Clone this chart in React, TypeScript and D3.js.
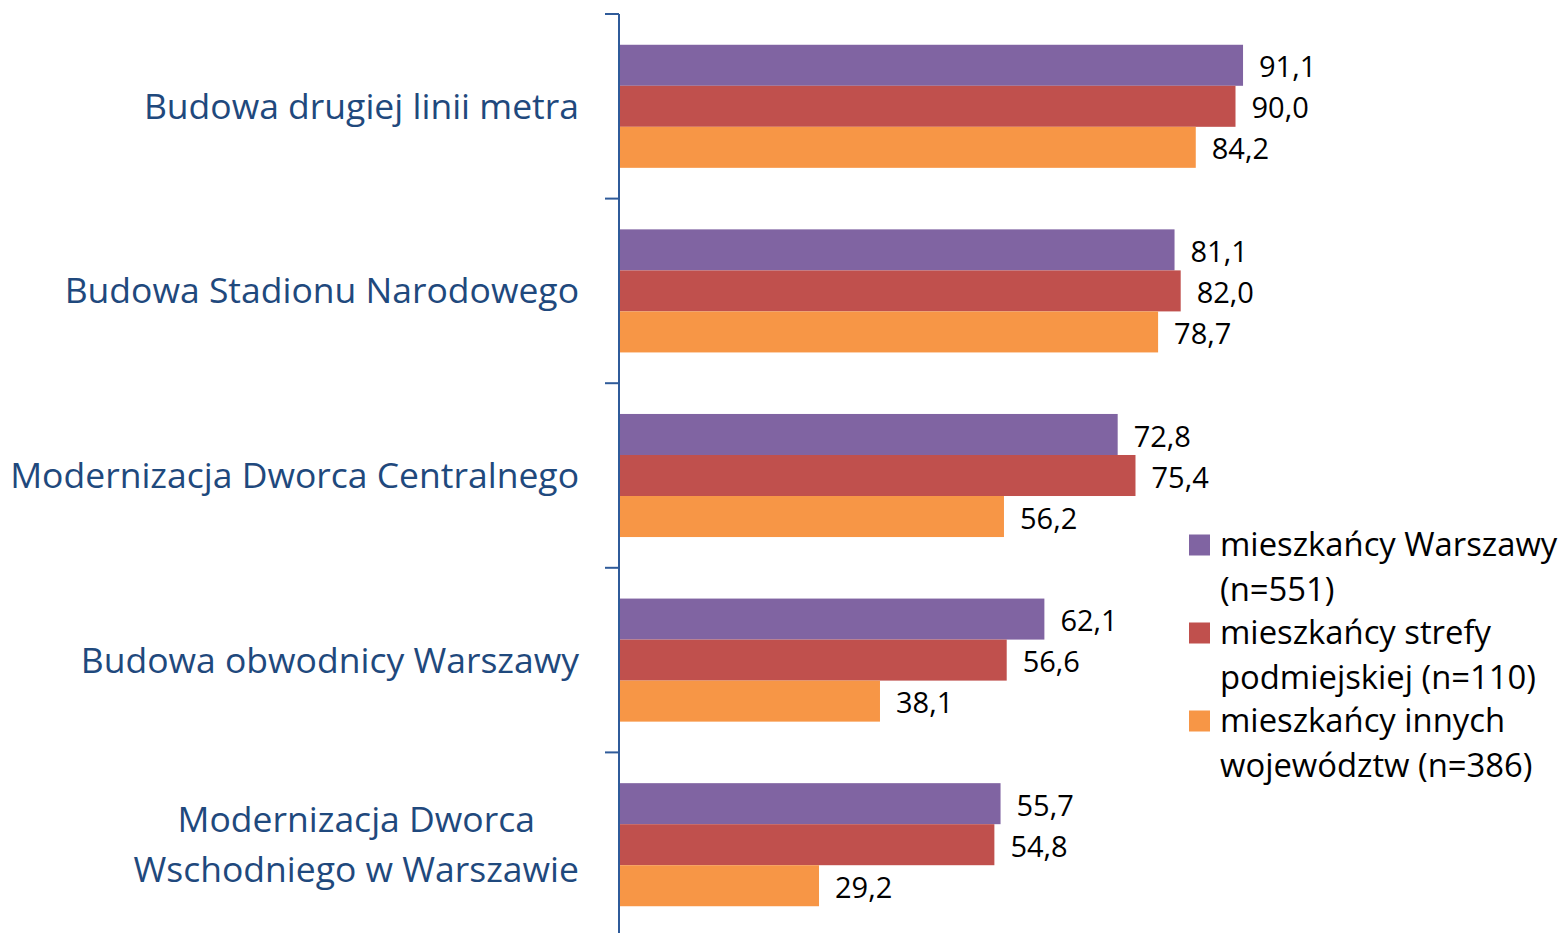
import * as d3 from "d3";

const categories = [
  ["Budowa drugiej linii metra"],
  ["Budowa Stadionu Narodowego"],
  ["Modernizacja Dworca Centralnego"],
  ["Budowa obwodnicy Warszawy"],
  ["Modernizacja Dworca", "Wschodniego w Warszawie"],
];

const seriesNames = [
  ["mieszkańcy Warszawy", "(n=551)"],
  ["mieszkańcy strefy", "podmiejskiej (n=110)"],
  ["mieszkańcy innych", "województw (n=386)"],
];

const warszawa = [91.1, 81.1, 72.8, 62.1, 55.7];
const strefa = [90.0, 82.0, 75.4, 56.6, 54.8];
const inne = [84.2, 78.7, 56.2, 38.1, 29.2];

const seriesValues = [warszawa, strefa, inne];
const colors = ["#8064A2", "#C0504D", "#F79646"];

const width = 1560;
const height = 933;
const font = "'Open Sans', sans-serif";

const fmt = (v: number) => v.toFixed(1).replace(".", ",");

function measure(text: string, size: number) {
  const ctx = document.createElement("canvas").getContext("2d");
  if (!ctx) return text.length * size * 0.5;
  ctx.font = `${size}px 'Open Sans'`;
  return ctx.measureText(text).width;
}

export default function App() {
  const axisX = 619;
  const x = d3.scaleLinear().domain([0, 100]).range([axisX, axisX + 685]);

  const keys = categories.map((_, i) => String(i));
  const y = d3.scaleBand().domain(keys).range([14, 937]);
  const bar = y.bandwidth() / 4.5;
  const yInner = d3
    .scaleBand()
    .domain(["0", "1", "2"])
    .range([bar * 0.75, y.bandwidth() - bar * 0.75]);

  const labelSize = 35.5;
  const valueSize = 29;
  const legendSize = 32.8;
  const labelRight = 579;

  return (
    <svg
      width={width}
      height={height}
      style={{ position: "absolute", left: 0, top: 0, display: "block" }}
    >
      <rect width={width} height={height} fill="#fff" />

      {/* bars */}
      {keys.map((k, ci) => (
        <g key={k} transform={`translate(0,${y(k)})`}>
          {seriesValues.map((vals, si) => {
            const by = yInner(String(si))!;
            const bh = yInner.bandwidth();
            return (
              <g key={si}>
                <rect
                  x={x(0)}
                  y={by}
                  width={x(vals[ci]) - x(0)}
                  height={bh}
                  fill={colors[si]}
                />
                <text
                  x={x(vals[ci]) + 16}
                  y={by + bh / 2 + 2}
                  dy="0.35em"
                  fontSize={valueSize}
                  fontFamily={font}
                  fill="#000"
                >
                  {fmt(vals[ci])}
                </text>
              </g>
            );
          })}
        </g>
      ))}

      {/* category axis */}
      <line x1={axisX} x2={axisX} y1={14} y2={height} stroke="#2F5B9A" strokeWidth={2} />
      {[...keys.map((k) => y(k)!), 937].map((t, i) => (
        <line key={i} x1={605} x2={axisX} y1={t} y2={t} stroke="#2F5B9A" strokeWidth={2} />
      ))}

      {categories.map((lines, ci) => {
        const cy = y(keys[ci])! + y.bandwidth() / 2;
        const lh = 50;
        const maxW = d3.max(lines, (l) => measure(l, labelSize)) ?? 0;
        const multi = lines.length > 1;
        return (
          <text
            key={ci}
            fontSize={labelSize}
            fontFamily={font}
            fill="#1F497D"
            textAnchor={multi ? "middle" : "end"}
          >
            {lines.map((l, li) => (
              <tspan
                key={li}
                x={multi ? labelRight - maxW / 2 : labelRight}
                y={cy + (li - (lines.length - 1) / 2) * lh}
                dy="0.35em"
              >
                {l}
              </tspan>
            ))}
          </text>
        );
      })}

      {/* legend */}
      {seriesNames.map((lines, si) => {
        const top = 545 + si * 88;
        return (
          <g key={si}>
            <rect x={1189} y={top - 10.5} width={21} height={21} fill={colors[si]} />
            <text fontSize={legendSize} fontFamily={font} fill="#000">
              {lines.map((l, li) => (
                <tspan key={li} x={1220} y={top + li * 45} dy="0.35em">
                  {l}
                </tspan>
              ))}
            </text>
          </g>
        );
      })}
    </svg>
  );
}
